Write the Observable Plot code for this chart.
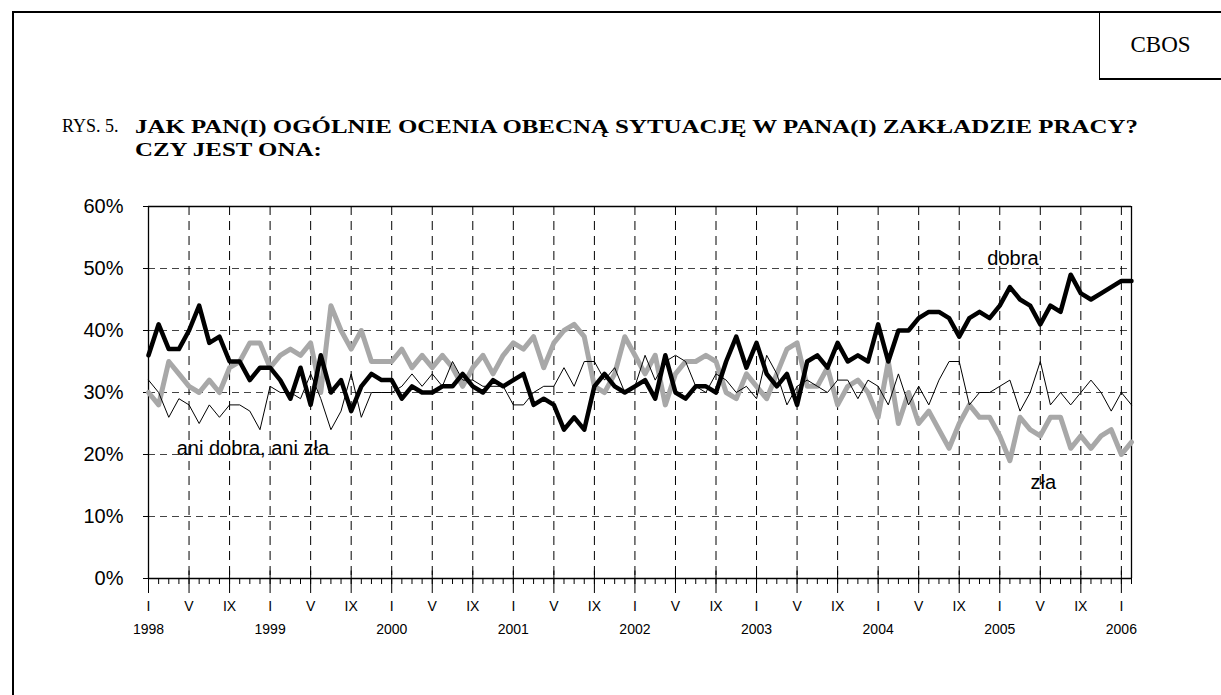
<!DOCTYPE html>
<html><head><meta charset="utf-8">
<script src="https://cdn.jsdelivr.net/npm/d3@7"></script>
<script src="https://cdn.jsdelivr.net/npm/@observablehq/plot@0.6"></script>
<style>
body{margin:0;background:#fff;}
#page{position:relative;width:1221px;height:695px;overflow:hidden;background:#fff;}
#frame{position:absolute;left:12px;top:11px;width:1400px;height:900px;border-left:2px solid #000;border-top:2px solid #000;}
#cbos{position:absolute;left:1099px;top:12px;width:200px;height:66px;border-left:1.5px solid #000;border-bottom:2px solid #000;}
#cbosText{position:absolute;left:1100px;width:121px;top:32px;text-align:center;font:23px "Liberation Serif",serif;}
#rys{position:absolute;left:62px;top:116px;font:18px "Liberation Serif",serif;}
#title{position:absolute;left:135px;top:115px;font:bold 19px "Liberation Serif",serif;line-height:23px;white-space:nowrap;transform:scaleX(1.31);transform-origin:0 0;}
#chart{position:absolute;left:0;top:160px;}
</style></head>
<body><div id="page">
<div id="frame"></div><div id="cbos"></div><div id="cbosText">CBOS</div>
<div id="rys">RYS. 5.</div>
<div id="title">JAK PAN(I) OGÓLNIE OCENIA OBECNĄ SYTUACJĘ W PANA(I) ZAKŁADZIE PRACY?<br>CZY JEST ONA:</div>
<div id="chart"></div>
</div>
<script>
// Monthly series, I 1998 – II 2006 (%)
const dobra = [36,41,37,37,40,44,38,39,35,35,32,34, 34,32,29,34,28,36,30,32,27,31,33,32,
  32,29,31,30,30,31,31,33,31,30,32,31, 32,33,28,29,28,24,26,24,31,33,31,30,
  31,32,29,36,30,29,31,31,30,35,39,34, 38,33,31,33,28,35,36,34,38,35,36,35,
  41,35,40,40,42,43,43,42,39,42,43,42, 44,47,45,44,41,44,43,49,46,45,46,47, 48,48];
const zla = [30,28,35,33,31,30,32,30,34,35,38,38, 34,36,37,36,38,30,44,40,37,40,35,35,
  35,37,34,36,34,36,34,31,34,36,33,36, 38,37,39,34,38,40,41,39,31,30,33,39,
  36,33,36,28,33,35,35,36,35,30,29,33, 31,29,33,37,38,31,31,34,28,31,32,30,
  26,35,25,30,25,27,24,21,25,28,26,26, 23,19,26,24,23,26,26,21,23,21,23,24, 20,22];
const ani = [32,30,26,29,28,25,28,26,28,28,27,24, 31,30,30,29,33,29,24,27,33,26,30,30,
  30,31,33,31,33,31,35,32,32,31,31,31, 28,28,30,31,31,34,31,35,35,32,34,30,
  31,36,32,35,36,35,31,30,33,32,30,31, 29,36,33,28,31,32,31,30,32,32,29,32,
  31,28,33,28,31,28,32,35,35,28,30,30, 31,32,27,30,35,28,30,28,30,32,30,27, 30,28];
const monthLabels = ["I","V","IX"];
const years = ["1998","1999","2000","2001","2002","2003","2004","2005","2006"];
const yTicks = [0,10,20,30,40,50,60];
const seriesNames = ["dobra","ani dobra, ani zła","zła"];

const toRows = arr => arr.map((v,i) => ({m:i, v}));
const nMonths = dobra.length;
const allMonths = d3.range(0, nMonths);
const majorMonths = d3.range(0, nMonths, 4);
const gridMonths = majorMonths.filter(m => m > 0);
const yearMonths = d3.range(0, nMonths, 12);
const font = "'Liberation Sans', Arial, sans-serif";

const chart = Plot.plot({
  width: 1221, height: 535,
  marginLeft: 148, marginRight: 90, marginTop: 46, marginBottom: 117,
  style: {fontFamily: font, background: "transparent", color: "#000"},
  x: {type: "linear", domain: [0, nMonths - 1], axis: null},
  y: {domain: [0, 60], axis: null},
  marks: [
    Plot.ruleY([10,20,30,40,50], {stroke: "#444", strokeDasharray: "7,5", strokeWidth: 1}),
    Plot.ruleX(gridMonths, {y1: 60, y2: 0, stroke: "#000", strokeDasharray: "9,6", strokeWidth: 1}),
    Plot.ruleX([0, nMonths - 1], {stroke: "#000", strokeWidth: 1.3}),
    Plot.ruleY([0, 60], {stroke: "#000", strokeWidth: 1.3}),
    Plot.ruleX(majorMonths, {y1: 0, y2: 1.2, stroke: "#000", strokeWidth: 1}),
    Plot.axisY({ticks: yTicks, label: null, tickFormat: d => d + "%", tickSize: 5, tickPadding: 20, fontSize: 20, stroke: "#000"}),
    Plot.axisX({ticks: allMonths, label: null, tickSize: 6, tickFormat: () => "", stroke: "#000"}),
    Plot.axisX({ticks: majorMonths, label: null, tickSize: 15, tickPadding: 8, fontSize: 14,
      tickFormat: m => monthLabels[(m % 12) / 4], stroke: "#000"}),
    Plot.axisX({ticks: yearMonths, label: null, tickSize: 0, tickPadding: 46, fontSize: 14,
      tickFormat: m => years[m / 12]}),
    Plot.line(toRows(zla), {x: "m", y: "v", stroke: "#a8a8a8", strokeWidth: 5}),
    Plot.line(toRows(ani), {x: "m", y: "v", stroke: "#000", strokeWidth: 1}),
    Plot.line(toRows(dobra), {x: "m", y: "v", stroke: "#000", strokeWidth: 4.5}),
    Plot.text([seriesNames[0]], {x: 85.3, y: 51.6, text: d => d, fontSize: 20, fill: "#000"}),
    Plot.text([seriesNames[1]], {x: 10.3, y: 21, text: d => d, fontSize: 20, fill: "#000"}),
    Plot.text([seriesNames[2]], {x: 88.3, y: 15.5, text: d => d, fontSize: 20, fill: "#000"})
  ]
});
document.getElementById("chart").appendChild(chart);
</script>
</body></html>
